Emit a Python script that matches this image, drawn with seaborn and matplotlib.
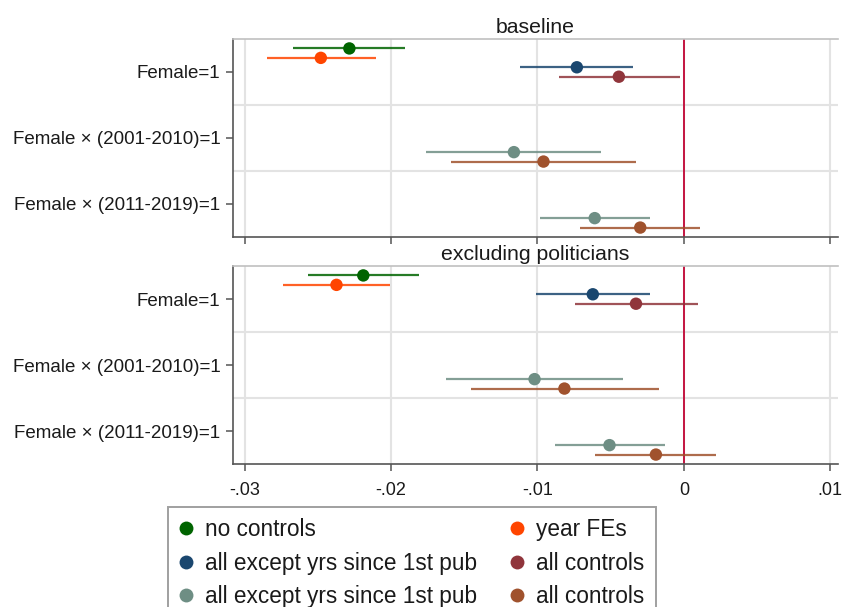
import numpy as np
import pandas as pd
import seaborn as sns
import matplotlib
matplotlib.use("Agg")
import matplotlib.pyplot as plt
from matplotlib.lines import Line2D

# ---------------- data ----------------
categories = ["Female=1", "Female × (2001-2010)=1", "Female × (2011-2019)=1"]
model_labels = ["no controls", "year FEs", "all except yrs since 1st pub",
                "all controls", "all except yrs since 1st pub", "all controls"]
model_colors = ["#006400", "#FF4500", "#1A476F", "#90353B", "#6E8E84", "#A0522D"]
panels = ["baseline", "excluding politicians"]

coef_model = [0, 1, 2, 3, 4, 5, 4, 5]
coef_cat = [0, 0, 0, 0, 1, 1, 2, 2]

baseline_est = [-0.02285, -0.0248, -0.00731, -0.00444, -0.01161, -0.00959, -0.00609, -0.00298]
baseline_lo = [-0.0267, -0.0285, -0.01119, -0.00856, -0.01759, -0.01592, -0.00983, -0.00707]
baseline_hi = [-0.01903, -0.02105, -0.00345, -0.00027, -0.00566, -0.00324, -0.00229, 0.00112]

excl_est = [-0.0219, -0.02373, -0.00622, -0.00327, -0.0102, -0.00816, -0.00508, -0.00191]
excl_lo = [-0.02567, -0.02737, -0.01007, -0.00744, -0.01626, -0.01456, -0.00882, -0.00606]
excl_hi = [-0.0181, -0.02009, -0.00231, 0.00096, -0.00417, -0.0017, -0.00128, 0.00221]

xticks = [-0.03, -0.02, -0.01, 0, 0.01]
xticklabels = ["-.03", "-.02", "-.01", "0", ".01"]

# ---------------- style ----------------
sns.set_theme(style="white")
plt.rcParams["font.family"] = ["Liberation Sans", "DejaVu Sans"]

fig = plt.figure(figsize=(8.44, 6.07), dpi=100)
W, H = 844, 607
left, right = 233, 838
panel_px = [(39, 237), (266, 464)]

frames = []
for pname, est, lo, hi in [(panels[0], baseline_est, baseline_lo, baseline_hi),
                           (panels[1], excl_est, excl_lo, excl_hi)]:
    d = pd.DataFrame({"panel": pname, "model": coef_model, "cat": coef_cat,
                      "est": est, "lo": lo, "hi": hi})
    frames.append(d)
df = pd.concat(frames, ignore_index=True)
df["pos"] = df["cat"] + 1 + (df["model"] - 2.5) / 7.0

palette = {i: c for i, c in enumerate(model_colors)}

for k, pname in enumerate(panels):
    top, bot = panel_px[k]
    ax = fig.add_axes([left / W, 1 - bot / H, (right - left) / W, (bot - top) / H])
    sub = df[df["panel"] == pname]

    ax.set_xlim(-0.0308, 0.01053)
    ax.set_ylim(3.5, 0.5)
    ax.set_xticks(xticks)
    ax.grid(axis="x", color="#e3e3e3", lw=1.5, zorder=0)
    for yb in [1.5, 2.5]:
        ax.axhline(yb, color="#e3e3e3", lw=1.5, zorder=0)
    ax.axvline(0, color="#C10534", lw=1.3, zorder=1)

    for _, r in sub.iterrows():
        ax.hlines(r["pos"], r["lo"], r["hi"], color=model_colors[int(r["model"])],
                  lw=1.6, alpha=0.85, zorder=2)
    sns.scatterplot(data=sub, x="est", y="pos", hue="model", palette=palette,
                    s=80, edgecolor="none", legend=False, ax=ax, zorder=3)

    ax.set_xlabel("")
    ax.set_ylabel("")
    ax.set_yticks([1, 2, 3])
    ax.set_yticklabels(categories, fontsize=13.5, color="#1a1a1a")
    if k == 1:
        ax.set_xticklabels(xticklabels, fontsize=13, color="#1a1a1a")
    else:
        ax.set_xticklabels([])
    ax.tick_params(axis="both", which="major", length=5, width=1.1,
                   color="#555555", left=True, bottom=True, pad=4)
    ax.tick_params(axis="x", pad=8)
    for s in ["left", "bottom"]:
        ax.spines[s].set_color("#555555")
        ax.spines[s].set_linewidth(1.2)
    ax.spines["top"].set_color("#c0c0c0")
    ax.spines["top"].set_linewidth(1.2)
    ax.spines["right"].set_visible(False)
    ax.set_title(pname, fontsize=15.3, color="#1a1a1a", pad=4)

# ---------------- legend ----------------
handles = [Line2D([], [], marker="o", linestyle="none", markersize=10,
                  markerfacecolor=c, markeredgecolor="none") for c in model_colors]
order = [0, 2, 4, 1, 3, 5]
leg = fig.legend([handles[i] for i in order], [model_labels[i] for i in order],
                 ncol=2, loc="upper left", bbox_to_anchor=(168 / W, 1 - 507 / H),
                 fontsize=16.3, frameon=True, fancybox=False, handlelength=0.6,
                 handletextpad=0.55, columnspacing=1.45, labelspacing=0.45,
                 borderpad=0.5, borderaxespad=0)
leg.get_frame().set_edgecolor("#888888")
leg.get_frame().set_linewidth(1.4)
for t in leg.get_texts():
    t.set_color("#1a1a1a")

fig.savefig("out.png", dpi=100)
